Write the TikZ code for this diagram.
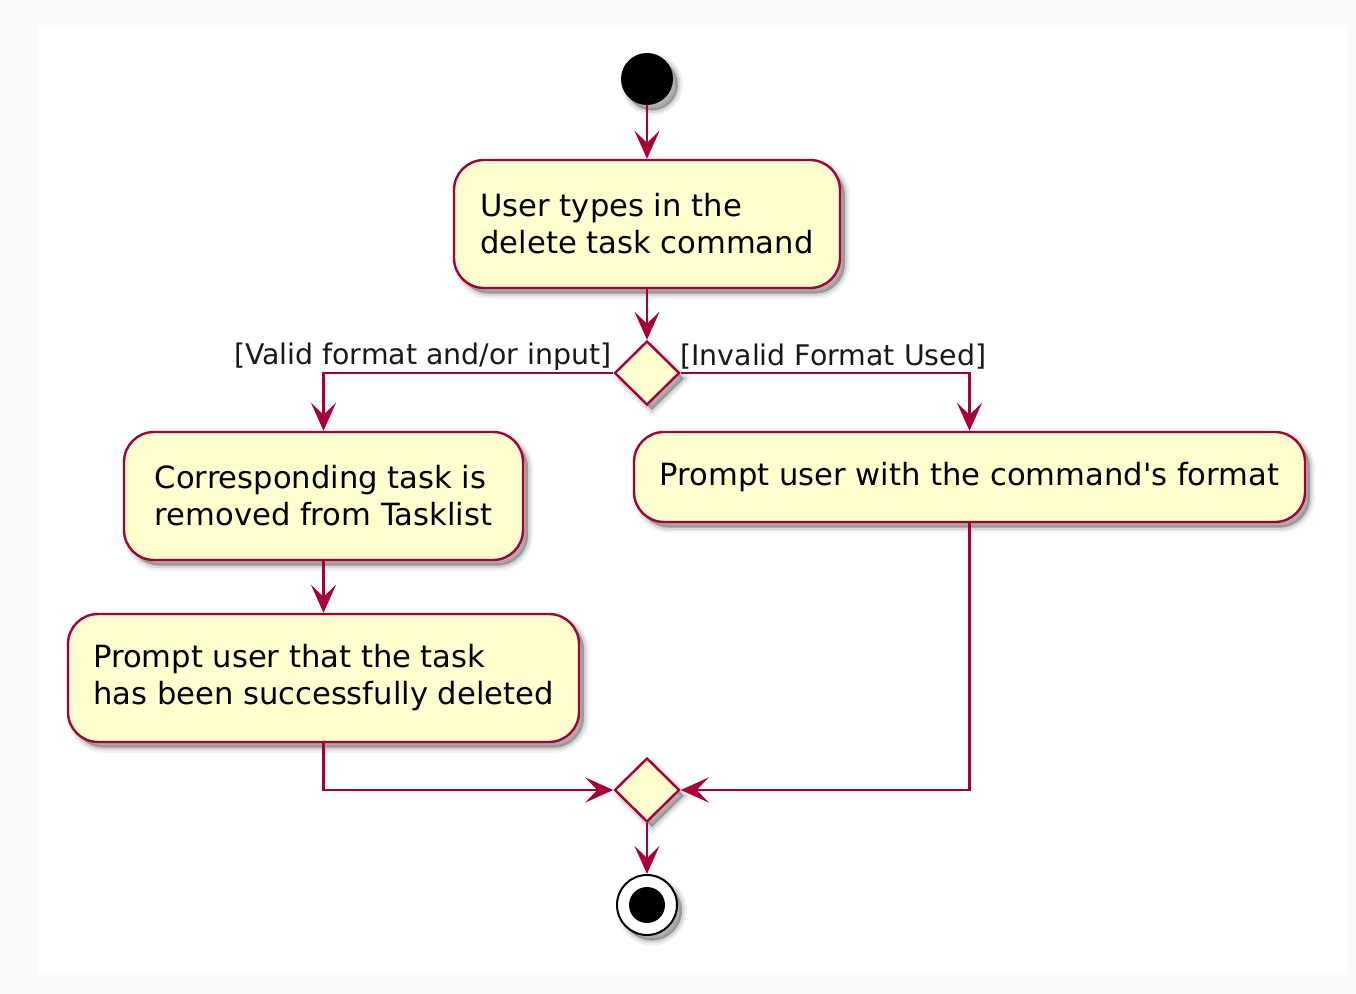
\documentclass[tikz,border=0pt]{standalone}
\usepackage{fontspec}
\setmainfont{DejaVu Sans}[Ligatures=TeXOff]
\usetikzlibrary{shapes.geometric,arrows.meta,shadows}
\definecolor{umlred}{HTML}{A80036}
\definecolor{umlfill}{HTML}{FEFECE}
\definecolor{pagegrey}{HTML}{FAFAFA}
\tikzset{
  shadowed/.style={
    general shadow={shadow xshift=2.5pt,shadow yshift=-2.8pt,draw=black,fill=black,line width=5pt,opacity=0.06},
    general shadow={shadow xshift=2.5pt,shadow yshift=-2.8pt,draw=black,fill=black,line width=2.5pt,opacity=0.1},
    general shadow={shadow xshift=2.5pt,shadow yshift=-2.8pt,fill=black,opacity=0.15}},
  action/.style={draw=umlred,fill=umlfill,line width=1.2pt,rounded corners=15pt,
    align=left,inner sep=0pt,font=\fontsize{15.3}{18.5}\selectfont,shadowed},
  decision/.style={diamond,draw=umlred,fill=umlfill,line width=1.2pt,inner sep=0pt,
    minimum width=32.5pt,minimum height=32pt,shadowed},
  flow/.style={draw=umlred,line width=1.2pt,-{Stealth[length=14pt,width=12.5pt,inset=6pt]}},
  guard/.style={font=\fontsize{14.2}{17}\selectfont,text=black!90,inner sep=0pt},
}
\begin{document}
\begin{tikzpicture}[x=0.5pt,y=-0.5pt]
\useasboundingbox (0,0) rectangle (1356,994);
\fill[pagegrey] (0,0) rectangle (1356,994);
\fill[white] (37,25) rectangle (1348,975);
% start
\node[circle,fill=black,minimum size=26pt,inner sep=0pt,shadowed] (start) at (647,79) {};
% actions
\node[action,minimum width=193pt,minimum height=64pt] (a1) at (647,224) {User types in the\\delete task command};
\node[decision] (d1) at (647,373) {};
\node[action,minimum width=199.5pt,minimum height=64pt] (a2) at (323.5,496) {Corresponding task is\\removed from Tasklist};
\node[action,minimum width=335.5pt,minimum height=45pt] (a3) at (969.5,477) {Prompt user with the command's format};
\node[action,minimum width=255.5pt,minimum height=64pt] (a4) at (323.5,678) {Prompt user that the task\\has been successfully deleted};
\node[decision] (d2) at (647,790) {};
% end
\node[circle,draw=black,line width=1pt,fill=white,minimum size=30pt,inner sep=0pt,shadowed] (stop) at (647,905) {};
\node[circle,fill=black,minimum size=18pt,inner sep=0pt] (stopdot) at (stop.center) {};
% guards
\node[guard,anchor=east] (g1) at (612,357) {[Valid format and/or input]};
\node[guard,anchor=west] (g2) at (680,357) {[Invalid Format Used]};
% flows
\draw[flow] (start) -- (a1);
\draw[flow] (a1) -- (d1);
\draw[flow] (d1.west) -| (a2.north);
\draw[flow] (d1.east) -| (a3.north);
\draw[flow] (a2) -- (a4);
\draw[flow] (a4.south) |- (d2.west);
\draw[flow] (a3.south) |- (d2.east);
\draw[flow] (d2) -- (stop);
\end{tikzpicture}
\end{document}
